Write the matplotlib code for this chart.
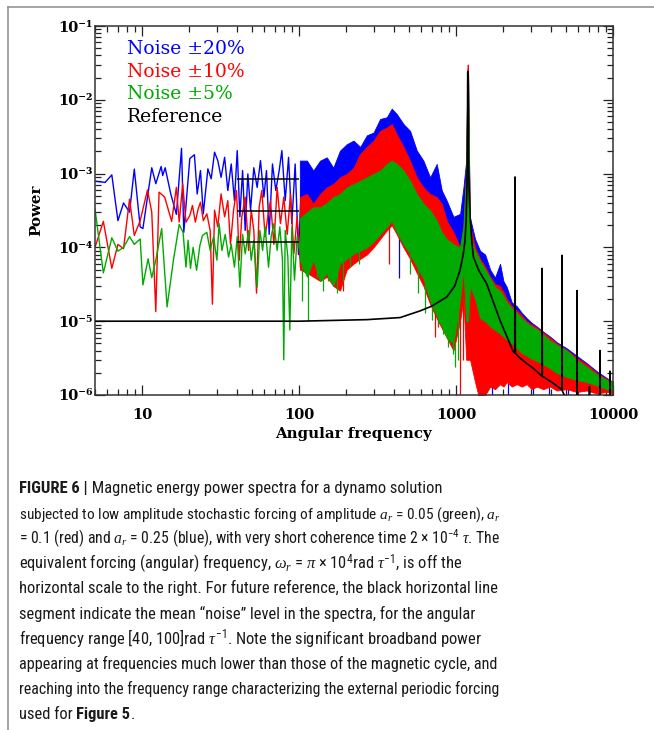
import numpy as np
import matplotlib
matplotlib.use("Agg")
import matplotlib.pyplot as plt
from matplotlib import font_manager
from matplotlib.ticker import LogLocator, NullFormatter
from matplotlib.lines import Line2D

# ---- low frequency part of the spectra (individual samples) ----
blue_low_f = [5.0, 5.8, 6.4, 7.0, 7.6, 8.3, 8.9, 9.7, 10.1, 11.5, 12.2, 13.2, 13.5, 14.0, 15.2, 16.5, 17.8, 18.4,
              20.1, 21.5, 22.4, 23.5, 24.5, 26.2, 27.5, 28.9, 30.3, 31.8, 33.5, 35.1, 36.9, 38.7, 40.3, 41.9,
              43.6, 45.3, 47.1, 49.0, 51.4, 54.0, 56.7, 59.6, 61.9, 64.4, 67.6, 71.0, 74.6, 77.6, 81.5, 85.6,
              89.8, 94.3, 99.0, 104.0]
blue_low_p = [7.9e-4, 7.6e-4, 9.6e-4, 2.3e-4, 4.0e-4, 3.0e-4, 1.15e-3, 1.9e-4, 1.8e-4, 1.2e-3, 7.3e-4, 1.25e-3,
              9.4e-4, 1.2e-3, 5.3e-4, 2.8e-4, 2.2e-3, 1.6e-4, 1.6e-3, 1.8e-3, 5.3e-4, 1.1e-3, 2.85e-4, 1.16e-3,
              8.5e-4, 1.95e-3, 1.5e-3, 8.9e-4, 1.66e-3, 5.9e-4, 1.35e-3, 4.3e-4, 2.05e-3, 2.6e-4, 1.1e-3, 1.7e-4,
              9.9e-4, 3.2e-4, 1.2e-3, 6.5e-4, 1.5e-3, 4.8e-4, 1.1e-3, 1.5e-4, 1.35e-3, 5.9e-4, 1.1e-3, 2.05e-3,
              4.3e-4, 1.66e-3, 2.1e-4, 1.35e-3, 8e-5, 9.9e-4]

red_low_f = [5.0, 5.65, 6.4, 7.0, 7.6, 8.3, 8.9, 9.7, 10.1, 10.8, 11.5, 12.2, 12.8, 13.9, 15.4, 16.5, 17.2, 18.1,
             19.0, 20.1, 20.9, 21.8, 22.7, 23.5, 24.5, 25.8, 27.1, 28.0, 28.9, 30.3, 31.8, 33.5, 35.1, 36.5,
             38.2, 39.9, 41.5, 43.1, 45.3, 47.6, 49.5, 51.4, 53.5, 55.6, 57.8, 60.7, 63.1, 65.6, 69.0, 72.4,
             76.0, 79.8, 83.9, 88.1, 92.5, 97.1, 102.0, 107.0]
red_low_p = [1.0e-4, 2.25e-4, 5.2e-5, 1.1e-4, 9.6e-5, 4.5e-4, 1.45e-4, 2.3e-4, 3.3e-4, 6.0e-4, 3.0e-4, 1.35e-5,
             5.6e-4, 4.8e-4, 2.25e-4, 6.5e-4, 2.2e-4, 7.3e-4, 2.2e-4, 2.7e-4, 3.7e-4, 2.2e-4, 3.3e-4, 4.1e-4,
             2.3e-4, 2.85e-4, 1.7e-4, 1.7e-5, 3.2e-4, 1.9e-4, 5.3e-4, 2.6e-4, 4.3e-4, 1.1e-4, 3.2e-4, 5.9e-4,
             6.7e-5, 2.6e-4, 4.8e-4, 9.1e-5, 3.2e-4, 1.7e-4, 2.4e-5, 3.5e-4, 5.9e-4, 1.4e-4, 2.6e-4, 4.3e-4,
             1.1e-4, 6.5e-4, 2.1e-4, 4.8e-4, 1.5e-4, 5.3e-4, 8.2e-5, 2.6e-4, 5.4e-5, 3.9e-4]

green_low_f = [5.0, 5.25, 5.65, 6.4, 7.0, 7.6, 8.3, 8.9, 9.7, 10.1, 10.9, 11.5, 12.2, 13.3, 14.4, 15.8, 17.2,
               18.2, 19.0, 19.6, 20.3, 21.1, 22.2, 23.3, 24.2, 25.8, 27.1, 28.5, 29.9, 30.9, 32.2, 33.8, 35.5,
               36.9, 38.7, 40.3, 41.9, 43.6, 45.3, 47.6, 49.5, 51.4, 54.0, 56.2, 58.5, 60.7, 63.8, 66.3, 69.0,
               72.4, 75.3, 78.3, 79.8, 81.5, 84.7, 87.2, 89.8, 93.4, 97.1, 101.0, 105.0]
green_low_p = [3.3e-4, 1.5e-4, 4.5e-5, 1.35e-4, 8.9e-5, 1.0e-4, 1.4e-4, 1.1e-4, 1.3e-4, 3.1e-5, 7.0e-5, 3.9e-5,
               6.7e-5, 1.8e-4, 1.56e-5, 6.7e-5, 2.05e-4, 1.6e-4, 5.4e-5, 1.25e-4, 5.2e-5, 1.0e-4, 4.9e-5,
               1.06e-4, 1.45e-4, 1.6e-4, 9.1e-5, 1.4e-4, 6.7e-5, 2.1e-4, 9.1e-5, 1.5e-4, 7.4e-5, 1.1e-4, 5.4e-5,
               1.4e-4, 2.9e-5, 1.5e-4, 8.2e-5, 1.7e-4, 6.7e-5, 1.25e-4, 2.9e-5, 1.7e-4, 9.1e-5, 1.9e-4, 5.4e-5,
               1.4e-4, 2.1e-4, 9.1e-5, 1.9e-4, 6.7e-5, 3.0e-6, 1.7e-4, 7.4e-5, 7.6e-6, 1.9e-4, 3.6e-5, 1.4e-4,
               9.1e-5, 1.7e-4]

# ---- dense part: upper / lower envelope of each spectrum ----
band_f = [101, 112, 123, 136, 150, 165, 182, 201, 222, 245, 270, 298, 328, 362, 389, 419, 462, 509, 562, 619,
          683, 753, 811, 872, 962, 1061, 1114, 1160, 1182, 1192, 1212, 1228, 1321, 1422, 1531, 1648, 1771, 1906,
          2003, 2104, 2264, 2435, 2620, 2818, 3033, 3263, 3597, 3968, 4376, 5068, 5870, 6800, 7870, 9120, 10000]

blue_hi = [1.5e-3, 1.5e-3, 1.1e-3, 1.5e-3, 1.66e-3, 1.2e-3, 2.05e-3, 2.5e-3, 2.8e-3, 2.3e-3, 3.3e-3, 3.6e-3,
           5.5e-3, 5.8e-3, 7.6e-3, 6.4e-3, 4.7e-3, 3.8e-3, 2.05e-3, 1.5e-3, 8.9e-4, 1.35e-3, 5.9e-4, 4.3e-4,
           2.6e-4, 2.85e-4, 6.5e-4,
           1.5e-3, 2.6e-2, 2.6e-2, 1.2e-3,
           2.5e-4, 1.3e-4, 9e-5, 8e-5, 5e-5, 3.9e-5, 6e-5, 3.5e-5, 2.9e-5, 1.8e-5, 1.6e-5, 1.3e-5,
           1.1e-5, 9.5e-6, 8.5e-6, 7.2e-6, 6.2e-6, 5.2e-6, 4.3e-6, 3.4e-6, 2.7e-6, 2.1e-6, 1.7e-6, 1.5e-6]
blue_lo = [8e-5, 7e-5, 6e-5, 7e-5, 6e-5, 5e-5, 5e-5, 8e-5, 1.0e-4, 1.1e-4, 1.3e-4, 1.6e-4, 2.0e-4, 2.5e-4,
           3.0e-4, 2.5e-4, 1.8e-4, 1.2e-4, 8e-5, 5e-5, 3e-5, 2e-5, 1.5e-5, 1.2e-5, 1e-5, 2e-5, 4e-5,
           1e-5, 1e-5, 1e-5, 1e-5,
           5e-6, 2e-6, 1.5e-6, 1.5e-6, 1.5e-6, 1.5e-6, 1.6e-6, 1.6e-6, 1.7e-6, 1.6e-6, 1.6e-6, 1.5e-6, 1.5e-6,
           1.4e-6, 1.4e-6, 1.4e-6, 1.4e-6, 1.3e-6, 1.3e-6, 1.2e-6, 1.2e-6, 1.2e-6, 1.2e-6, 1.2e-6]

red_hi = [4.8e-4, 5.3e-4, 3.9e-4, 5.3e-4, 6.5e-4, 7.2e-4, 8.9e-4, 9.9e-4, 1.2e-3, 1.85e-3, 2.3e-3, 2.8e-3,
          3.8e-3, 4.2e-3, 4.7e-3, 3.4e-3, 2.3e-3, 1.5e-3, 8.9e-4, 6.5e-4, 5.3e-4, 4.8e-4, 3.9e-4, 2.3e-4,
          1.6e-4, 1.0e-4, 2.0e-4,
          1.2e-3, 3.0e-2, 3.0e-2, 1.0e-3,
          2e-4, 1.0e-4, 7e-5, 5.5e-5, 4e-5, 3.2e-5, 3e-5, 2.5e-5, 2.0e-5, 1.6e-5, 1.4e-5, 1.2e-5,
          1.0e-5, 9e-6, 8.2e-6, 7.0e-6, 6.0e-6, 5.0e-6, 4.1e-6, 3.2e-6, 2.6e-6, 2.0e-6, 1.65e-6, 1.5e-6]
red_lo = [5.0e-5, 4.5e-5, 4.0e-5, 3.5e-5, 4.0e-5, 3.0e-5, 2.6e-5, 5.0e-5, 6.0e-5, 7.0e-5, 8.0e-5, 1.0e-4,
          1.3e-4, 1.7e-4, 2.0e-4, 1.5e-4, 1.0e-4, 7.0e-5, 4.5e-5, 3.0e-5, 1.7e-5, 1.1e-5, 8.0e-6, 6.0e-6,
          4.0e-6, 1.0e-5, 2.0e-5,
          3e-6, 3e-6, 3e-6, 3e-6,
          3e-6, 1.5e-6, 8e-7, 1e-6, 1.3e-6, 1.2e-6, 1.4e-6, 1.3e-6, 1.5e-6, 1.3e-6, 1.4e-6, 1.3e-6, 1.4e-6,
          1.2e-6, 1.3e-6, 1.2e-6, 1.3e-6, 1.15e-6, 1.2e-6, 1.1e-6, 1.15e-6, 1.05e-6, 1.1e-6, 1.05e-6]

green_hi = [2.5e-4, 3.0e-4, 3.5e-4, 3.5e-4, 4.0e-4, 4.8e-4, 5.3e-4, 6.5e-4, 7.2e-4, 8.0e-4, 8.9e-4, 9.9e-4,
            1.1e-3, 1.35e-3, 1.5e-3, 1.35e-3, 1.1e-3, 8.0e-4, 5.3e-4, 3.9e-4, 3.2e-4, 2.3e-4, 1.6e-4, 1.3e-4,
            1.1e-4, 1.0e-4, 1.9e-4,
            1.0e-3, 2.4e-2, 2.4e-2, 8e-4,
            1.4e-4, 9e-5, 6.5e-5, 5e-5, 3.8e-5, 2.9e-5, 2.6e-5, 2.2e-5, 1.8e-5, 1.5e-5, 1.3e-5, 1.1e-5,
            9.5e-6, 8.5e-6, 7.8e-6, 6.5e-6, 5.5e-6, 4.8e-6, 4.0e-6, 3.0e-6, 2.4e-6, 1.9e-6, 1.6e-6, 1.45e-6]
green_lo = [6.7e-5, 4.0e-5, 6.7e-5, 3.5e-5, 4.5e-5, 3.0e-5, 6.0e-5, 7.0e-5, 8.2e-5, 9.0e-5, 1.0e-4, 1.2e-4,
            1.5e-4, 1.9e-4, 2.3e-4, 1.6e-4, 1.1e-4, 8.2e-5, 5.5e-5, 3.8e-5, 1.9e-5, 1.2e-5, 8.5e-6, 6.0e-6,
            5.0e-6, 2.0e-5, 5.0e-5,
            1e-5, 1e-5, 1e-5, 2e-5,
            3e-5, 2e-5, 1.1e-5, 1.0e-5, 8.5e-6, 7.6e-6, 6.8e-6, 6.2e-6, 5.6e-6, 5.0e-6, 4.3e-6, 3.7e-6, 3.4e-6,
            3.1e-6, 2.9e-6, 2.6e-6, 2.3e-6, 2.0e-6, 1.75e-6, 1.6e-6, 1.5e-6, 1.35e-6, 1.2e-6, 1.15e-6]

# downward spikes below the dense bands: frequency, top, bottom
green_spike_f = [105, 114, 129, 142, 153, 173, 190, 211, 239, 509, 576, 633, 698, 770, 830, 892, 950, 988, 1027]
green_spike_top = [8e-5, 8e-5, 8e-5, 6e-5, 6e-5, 6e-5, 8e-5, 1e-4, 1.1e-4, 1e-4, 6e-5, 4e-5, 3e-5, 2e-5,
                   1.2e-5, 8e-6, 6e-6, 5e-6, 2e-5]
green_spike_bot = [1.9e-5, 1.0e-5, 3.9e-5, 2.6e-5, 3.5e-5, 2.4e-5, 3.5e-5, 5.4e-5, 5.9e-5, 4.4e-5, 2.4e-5,
                   1.3e-5, 1.03e-5, 9e-6, 6.8e-6, 4.5e-6, 3.6e-6, 2.4e-6, 3e-6]
red_spike_f = [190, 376, 735, 770, 1061, 1100]
red_spike_top = [6e-5, 2e-4, 1.5e-5, 1.2e-5, 1e-5, 2e-5]
red_spike_bot = [2.6e-5, 5.9e-5, 6.2e-6, 8.4e-6, 5e-7, 3e-6]
blue_spike_f = [182, 190, 432, 1700, 2150, 3100, 3900, 5200]
blue_spike_top = [1e-4, 1e-4, 2.5e-4, 1.6e-6, 1.6e-6, 1.5e-6, 1.4e-6, 1.3e-6]
blue_spike_bot = [6e-5, 5.4e-5, 3.9e-5, 9e-7, 9e-7, 9e-7, 9e-7, 9e-7]

# ---- reference run (no noise) ----
ref_f = [5, 100, 270, 440, 590, 700, 873, 980, 1060, 1110, 1141, 1160, 1172, 1180, 1186, 1194, 1200, 1210, 1230,
         1260, 1290, 1400, 1569, 1700, 1905, 2100, 2317, 2365, 2375, 2385, 2500, 2800, 3107, 3520, 3530, 3545,
         3595, 4165, 4594, 4720, 4730, 4745, 5000, 5890, 5900, 5915, 7070, 7080, 7095, 8250, 8260, 8275, 9540,
         9550, 9565, 10000]
ref_p = [1.0e-5, 1.0e-5, 1.05e-5, 1.12e-5, 1.38e-5, 1.6e-5, 2.13e-5, 3.0e-5, 4.9e-5, 8e-5, 1.25e-4, 2.5e-4,
         6e-4, 2e-3, 2.4e-2, 2.4e-2, 2e-3, 6e-4, 2.5e-4, 1.2e-4, 7.4e-5, 4.8e-5, 3.2e-5, 2.0e-5, 1.03e-5,
         6.3e-6, 3.85e-6, 3.7e-6, 9e-4, 3.7e-6, 3.3e-6, 2.7e-6, 2.3e-6, 1.8e-6, 5.2e-5, 1.78e-6, 1.77e-6,
         1.44e-6, 1.23e-6, 1.2e-6, 7.8e-5, 1.15e-6, 9e-7, 7e-7, 2.6e-5, 7e-7, 5e-7, 1.3e-6, 5e-7, 4e-7, 4e-6,
         4e-7, 3e-7, 2.1e-6, 3e-7, 3e-7]

# mean noise level over [40, 100]
mean_range = [40, 100]
mean_levels = [8.5e-4, 3.1e-4, 1.2e-4]

legend_labels = ["Noise \u00b120%", "Noise \u00b110%", "Noise \u00b15%", "Reference"]
x_ticks = [10, 100, 1000, 10000]
x_tick_labels = ["10", "100", "1000", "10000"]
y_ticks = [1e-6, 1e-5, 1e-4, 1e-3, 1e-2, 1e-1]
y_tick_labels = ["10\u207b\u2076", "10\u207b\u2075", "10\u207b\u2074", "10\u207b\u00b3", "10\u207b\u00b2", "10\u207b\u00b9"]

BLUE = "#0000ff"
RED = "#ff0000"
GREEN = "#00aa00"

available = {f.name for f in font_manager.fontManager.ttflist}
cap_font = "Roboto Condensed" if "Roboto Condensed" in available else "Liberation Sans"

plt.rcParams["font.family"] = "DejaVu Serif"
plt.rcParams["mathtext.rm"] = cap_font
plt.rcParams["mathtext.it"] = "Liberation Serif:italic"
plt.rcParams["mathtext.bf"] = cap_font + ":bold"

W, H = 654, 730
fig = plt.figure(figsize=(W / 100, H / 100), dpi=100)
ax = fig.add_axes([95 / W, 1 - 395 / H, (613 - 95) / W, (395 - 26) / H])
ax.set_xscale("log")
ax.set_yscale("log")


def draw_series(color, low_f, low_p, hi, lo, sp_f, sp_top, sp_bot):
    ax.plot(low_f, low_p, color=color, lw=1.0, zorder=2)
    ax.fill_between(band_f, lo, hi, color=color, lw=0.6, edgecolor=color, zorder=2)
    ax.vlines(sp_f, sp_bot, sp_top, color=color, lw=0.9, zorder=2)


draw_series(BLUE, blue_low_f, blue_low_p, blue_hi, blue_lo, blue_spike_f, blue_spike_top, blue_spike_bot)
draw_series(RED, red_low_f, red_low_p, red_hi, red_lo, red_spike_f, red_spike_top, red_spike_bot)
draw_series(GREEN, green_low_f, green_low_p, green_hi, green_lo, green_spike_f, green_spike_top, green_spike_bot)

ax.plot(ref_f, ref_p, color="black", lw=1.2, zorder=3)
ax.hlines(mean_levels, mean_range[0], mean_range[1], color="black", lw=1.1, zorder=4)

ax.set_xlim(5, 10000)
ax.set_ylim(1e-6, 1e-1)

ax.set_xticks(x_ticks, labels=x_tick_labels)
ax.set_yticks(y_ticks, labels=y_tick_labels)
ax.xaxis.set_minor_locator(LogLocator(base=10, subs=np.arange(2, 10), numticks=20))
ax.xaxis.set_minor_formatter(NullFormatter())
ax.yaxis.set_minor_locator(LogLocator(base=10, subs=np.arange(2, 10), numticks=20))
ax.yaxis.set_minor_formatter(NullFormatter())

ax.tick_params(which="both", direction="in", top=True, right=True, width=0.9, color="#222222")
ax.tick_params(which="major", length=7.5, labelsize=10.5)
ax.tick_params(which="minor", length=4)
ax.tick_params(axis="x", which="major", pad=9)
ax.tick_params(axis="y", which="major", pad=1.5)
for lab in ax.get_xticklabels() + ax.get_yticklabels():
    lab.set_fontweight("bold")
for sp in ax.spines.values():
    sp.set_linewidth(1.1)
    sp.set_color("#333333")

ax.set_xlabel("Angular frequency", fontsize=10.8, weight="bold", va="top")
ax.xaxis.set_label_coords(0.5, -0.086)
ax.set_ylabel("Power", fontsize=10.8, weight="bold", va="center")
ax.yaxis.set_label_coords(-0.114, 0.5)

for label, color, yb in zip(legend_labels, [BLUE, RED, GREEN, "black"], [0.924, 0.862, 0.802, 0.740]):
    ax.text(0.062, yb, label, color=color, fontsize=13.5, transform=ax.transAxes, va="baseline", ha="left")

# border round the figure panel
fig.add_artist(Line2D([8 / W, 8 / W], [0, 1 - 7 / H], transform=fig.transFigure, color="#8c8c8c", lw=1.1))
fig.add_artist(Line2D([8 / W, 1], [1 - 7 / H, 1 - 7 / H], transform=fig.transFigure, color="#8c8c8c", lw=1.1))

# caption
caption_lines = [
    [("FIGURE 6 |", "bold"), (" Magnetic energy power spectra for a dynamo solution", "normal")],
    [("subjected to low amplitude stochastic forcing of amplitude $a_r$ = 0.05 (green), $a_r$", "normal")],
    [("= 0.1 (red) and $a_r$ = 0.25 (blue), with very short coherence time 2 \u00d7 10$^{-4}$ $\\tau$. The", "normal")],
    [("equivalent forcing (angular) frequency, $\\omega_r$ = $\\pi$ \u00d7 10$^{4}$rad $\\tau^{-1}$, is off the", "normal")],
    [("horizontal scale to the right. For future reference, the black horizontal line", "normal")],
    [("segment indicate the mean \u201cnoise\u201d level in the spectra, for the angular", "normal")],
    [("frequency range [40, 100]rad $\\tau^{-1}$. Note the significant broadband power", "normal")],
    [("appearing at frequencies much lower than those of the magnetic cycle, and", "normal")],
    [("reaching into the frequency range characterizing the external periodic forcing", "normal")],
    [("used for ", "normal"), ("Figure 5", "bold"), (".", "normal")],
]

renderer = fig.canvas.get_renderer()
cap_size = 11.9
x_left, x_right = 19, 501
for i, parts in enumerate(caption_lines):
    yb = 1 - (493 + 25.1 * i) / H
    x = x_left / W
    for txt, weight in parts:
        t = fig.text(x, yb, txt, fontsize=cap_size, family=cap_font, weight=weight, color="#1a1a1a",
                     va="baseline", ha="left", math_fontfamily="custom")
        bb = t.get_window_extent(renderer)
        # long single-run lines are set tighter so they stay inside the column
        if len(parts) == 1 and bb.x1 > x_right:
            t.set_fontsize(cap_size * (x_right - x_left) / (bb.x1 - x_left))
            bb = t.get_window_extent(renderer)
        x = bb.x1 / W

fig.savefig("out.png", dpi=100)
